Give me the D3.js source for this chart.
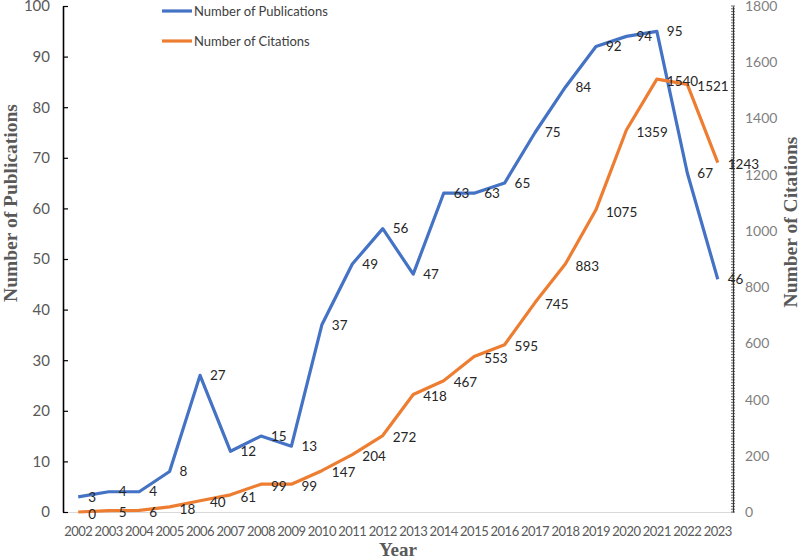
<!DOCTYPE html>
<html>
<head>
<meta charset="utf-8">
<script src="https://cdn.jsdelivr.net/npm/d3@7"></script>
<style>
  body { margin: 0; background: #fff; }
  svg { display: block; }
</style>
</head>
<body>
<div id="chart"></div>
<script>
var years = ["2002","2003","2004","2005","2006","2007","2008","2009","2010","2011","2012",
             "2013","2014","2015","2016","2017","2018","2019","2020","2021","2022","2023"];
var publications = [3,4,4,8,27,12,15,13,37,49,56,47,63,63,65,75,84,92,94,95,67,46];
var citations = [0,5,6,18,40,61,99,99,147,204,272,418,467,553,595,745,883,1075,1359,1540,1521,1243];
var leftTicks = [0,10,20,30,40,50,60,70,80,90,100];
var rightTicks = [0,200,400,600,800,1000,1200,1400,1600,1800];

var width = 800, height = 560;
var margin = {top: 6, right: 67, bottom: 48, left: 63};
var blue = "#4472C4", orange = "#ED7D31";
var labelFont = "Lato, 'Open Sans', sans-serif";

var svg = d3.select("#chart").append("svg")
    .attr("width", width)
    .attr("height", height);

// scales
var x = d3.scaleBand().domain(years).range([margin.left, width - margin.right]);
var yL = d3.scaleLinear().domain([0, 100]).range([height - margin.bottom, margin.top]);
var yR = d3.scaleLinear().domain([0, 1800]).range([height - margin.bottom, margin.top]);
var cx = function(d, i) { return x(years[i]) + x.bandwidth() / 2; };

// bottom axis
var xAxis = svg.append("g")
    .attr("transform", "translate(0," + yL(0) + ")")
    .call(d3.axisBottom(x).tickSize(0).tickPadding(15));
xAxis.select(".domain").attr("stroke", "#d9d9d9").attr("stroke-width", 1.2);
xAxis.selectAll("text")
    .style("font-family", labelFont).style("font-size", "13px")
    .style("letter-spacing", "-0.5px").attr("fill", "#595959");

// left axis
var lAxis = svg.append("g")
    .attr("transform", "translate(" + margin.left + ",0)")
    .call(d3.axisLeft(yL).tickValues(leftTicks).tickSizeInner(-5).tickSizeOuter(0).tickPadding(13));
lAxis.select(".domain").attr("stroke", "#000").attr("stroke-width", 1.6);
lAxis.selectAll(".tick line").attr("stroke", "#000").attr("stroke-width", 1.2);
lAxis.selectAll("text")
    .style("font-family", labelFont).style("font-size", "15px").attr("fill", "#595959");

// right axis (dense minor ticks)
var rx = width - margin.right;
svg.append("g").selectAll("line")
    .data(d3.range(0, 1801, 10))
    .join("line")
    .attr("x1", rx - 2).attr("x2", rx + 2)
    .attr("y1", function(d) { return yR(d); })
    .attr("y2", function(d) { return yR(d); })
    .attr("stroke", "#444").attr("stroke-width", 0.8);
var rAxis = svg.append("g")
    .attr("transform", "translate(" + rx + ",0)")
    .call(d3.axisRight(yR).tickValues(rightTicks).tickFormat(d3.format("d")).tickSize(0).tickPadding(12));
rAxis.select(".domain").attr("stroke", "#333").attr("stroke-width", 1.2);
rAxis.selectAll("text")
    .style("font-family", labelFont).style("font-size", "14px").attr("fill", "#7f7f7f");

// lines
var pubLine = d3.line().x(cx).y(function(d) { return yL(d); });
var citLine = d3.line().x(cx).y(function(d) { return yR(d); });

svg.append("path")
    .datum(publications)
    .attr("fill", "none").attr("stroke", blue).attr("stroke-width", 3.2)
    .attr("stroke-linejoin", "round")
    .attr("d", pubLine);

svg.append("path")
    .datum(citations)
    .attr("fill", "none").attr("stroke", orange).attr("stroke-width", 3.2)
    .attr("stroke-linejoin", "round")
    .attr("d", citLine);

// data labels
svg.append("g").selectAll("text")
    .data(publications)
    .join("text")
    .attr("x", function(d, i) { return cx(d, i) + 10; })
    .attr("y", function(d) { return yL(d); })
    .attr("dy", "0.35em")
    .style("font-family", labelFont).style("font-size", "13.5px")
    .attr("fill", "#262626")
    .text(function(d) { return d; });

svg.append("g").selectAll("text")
    .data(citations)
    .join("text")
    .attr("x", function(d, i) { return cx(d, i) + 10; })
    .attr("y", function(d) { return yR(d) + 2; })
    .attr("dy", "0.35em")
    .style("font-family", labelFont).style("font-size", "13.5px")
    .attr("fill", "#262626")
    .text(function(d) { return d; });

// axis titles
var titleFont = "'Liberation Serif', 'Times New Roman', serif";
svg.append("text")
    .attr("transform", "translate(17,203) rotate(-90)")
    .attr("text-anchor", "middle")
    .style("font-family", titleFont).style("font-size", "19.5px").style("font-weight", "bold")
    .attr("fill", "#595959")
    .text("Number of Publications");

svg.append("text")
    .attr("transform", "translate(797,222) rotate(-90)")
    .attr("text-anchor", "middle")
    .style("font-family", titleFont).style("font-size", "19.5px").style("font-weight", "bold")
    .attr("fill", "#595959")
    .text("Number of Citations");

svg.append("text")
    .attr("x", 398).attr("y", 556)
    .attr("text-anchor", "middle")
    .style("font-family", titleFont).style("font-size", "19px").style("font-weight", "bold")
    .attr("fill", "#595959")
    .text("Year");

// legend
var legendItems = [{name: "Number of Publications", color: blue},
                   {name: "Number of Citations", color: orange}];
var legend = svg.append("g").selectAll("g")
    .data(legendItems)
    .join("g")
    .attr("transform", function(d, i) { return "translate(162," + (11 + i * 30) + ")"; });
legend.append("line")
    .attr("x1", 0).attr("x2", 30)
    .attr("stroke", function(d) { return d.color; }).attr("stroke-width", 3.2);
legend.append("text")
    .attr("x", 32).attr("dy", "0.35em")
    .style("font-family", labelFont).style("font-size", "13px")
    .attr("fill", "#404040")
    .text(function(d) { return d.name; });
</script>
</body>
</html>
